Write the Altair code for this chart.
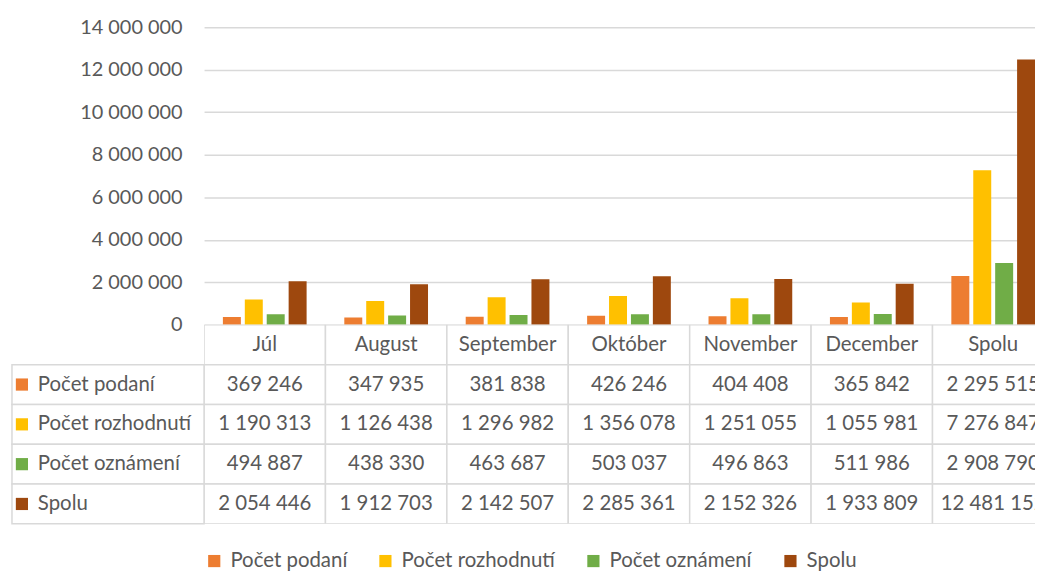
import altair as alt
import pandas as pd

months = ["Júl", "August", "September", "Október", "November", "December", "Spolu"]
series = ["Počet podaní", "Počet rozhodnutí", "Počet oznámení", "Spolu"]
podani = [369246, 347935, 381838, 426246, 404408, 365842, 2295515]
rozhodnuti = [1190313, 1126438, 1296982, 1356078, 1251055, 1055981, 7276847]
oznameni = [494887, 438330, 463687, 503037, 496863, 511986, 2908790]
spolu = [2054446, 1912703, 2142507, 2285361, 2152326, 1933809, 12481152]
colors = ["#ED7D31", "#FFC000", "#70AD47", "#9E480E"]
y_ticks = [0, 2000000, 4000000, 6000000, 8000000, 10000000, 12000000, 14000000]

FONT = "Lato"
GRAY = "#595959"
LINE = "#D9D9D9"
BAND = 122
W = 835

values = {series[0]: podani, series[1]: rozhodnuti, series[2]: oznameni, series[3]: spolu}
recs = []
for s in series:
    for m, v in zip(months, values[s]):
        recs.append({"series": s, "month": m, "value": v,
                     "label": f"{v:,}".replace(",", " ")})
df = pd.DataFrame(recs)

hdr = pd.DataFrame({"month": months, "row": ["hdr"] * len(months), "label": months})
body = df.rename(columns={"series": "row"})[["month", "row", "label"]]
cells = pd.concat([hdr, body], ignore_index=True)
lab_df = pd.DataFrame({"row": series})

x_scale = alt.Scale(domain=months, range=[0, BAND * len(months)], paddingInner=0, paddingOuter=0)
color_scale = alt.Scale(domain=series, range=colors)

bars = alt.Chart(df).mark_bar(clip=True).encode(
    x=alt.X("month:N", scale=x_scale, axis=None),
    xOffset=alt.XOffset("series:N", scale=alt.Scale(domain=series, paddingInner=0.18, paddingOuter=0.86)),
    y=alt.Y("value:Q", scale=alt.Scale(domain=[0, 14000000]),
            axis=alt.Axis(values=y_ticks, title=None, domain=False, ticks=False,
                          labelPadding=22, labelFontSize=20, labelFont=FONT, labelColor=GRAY,
                          gridColor=LINE, gridWidth=1.5,
                          labelExpr="datum.value == 0 ? '0' : format(datum.value / 1000000, 'd') + ' 000 000'")),
    color=alt.Color("series:N", scale=color_scale, legend=None),
).properties(width=W, height=299)

y_tab = alt.Y("row:N", scale=alt.Scale(domain=["hdr"] + series, paddingInner=0, paddingOuter=0), axis=None)
x_tab = alt.X("month:N", scale=x_scale, axis=None)

cell_rect = alt.Chart(cells).mark_rect(fill="white", stroke=LINE, strokeWidth=1.5, clip=True).encode(
    x=x_tab, y=y_tab)
cell_text = alt.Chart(cells).mark_text(font=FONT, fontSize=20.5, color=GRAY, clip=True).encode(
    x=x_tab, y=y_tab, text="label:N")
lab_rect = alt.Chart(lab_df).mark_rect(fill="white", stroke=LINE, strokeWidth=1.5).encode(
    x=alt.value(-193), x2=alt.value(0), y=y_tab)
lab_sq = alt.Chart(lab_df).mark_square(size=150, opacity=1).encode(
    x=alt.value(-183), y=y_tab,
    color=alt.Color("row:N", scale=color_scale,
                    legend=alt.Legend(title=None, orient="none", direction="horizontal",
                                      legendX=0, legendY=227, symbolType="square", symbolSize=150,
                                      labelFont=FONT, labelFontSize=20.5, labelColor=GRAY,
                                      labelOffset=6, columnPadding=28, symbolStrokeWidth=0)))
lab_txt = alt.Chart(lab_df).mark_text(align="left", font=FONT, fontSize=20.5, color=GRAY).encode(
    x=alt.value(-167), y=y_tab, text="row:N")

table = alt.layer(cell_rect, cell_text, lab_rect, lab_sq, lab_txt).properties(width=W, height=200)

chart = alt.vconcat(bars, table, spacing=0, bounds="flush").resolve_scale(color="independent").properties(
    padding={"left": 3, "top": 8, "right": 0, "bottom": 0}
).configure_view(stroke=None)

chart.save("out.html", embed_options={"renderer": "svg", "actions": False})
